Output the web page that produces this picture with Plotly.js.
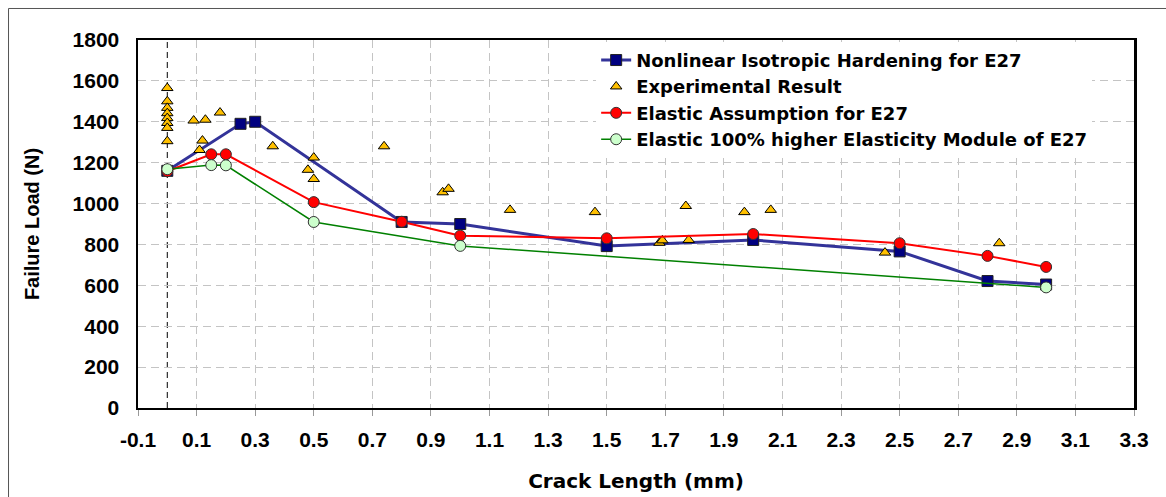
<!DOCTYPE html>
<html>
<head>
<meta charset="utf-8">
<script src="https://cdn.plot.ly/plotly-3.0.1.min.js"></script>
<style>
  html, body { margin: 0; padding: 0; background: #ffffff; }
  #chart { width: 1166px; height: 497px; }
</style>
</head>
<body>
<div id="chart"></div>
<script>
// ---- data ----
const seriesNames = [
  "Nonlinear Isotropic Hardening for E27",
  "Experimental Result",
  "Elastic Assumption for E27",
  "Elastic 100% higher Elasticity Module of E27"
];

const crackNonlinear = [0, 0.25, 0.3, 0.8, 1.0, 1.5, 2.0, 2.5, 2.8, 3.0];
const loadNonlinear  = [1160, 1390, 1400, 910, 900, 792, 822, 766, 621, 604];

const crackExp = [0, 0, 0, 0, 0, 0, 0, 0,
                  0.09, 0.13, 0.18, 0.12, 0.11, 0.36, 0.50, 0.48, 0.50, 0.74,
                  0.94, 0.96, 1.17, 1.46, 1.68, 1.69, 1.78, 1.77, 1.97, 2.06,
                  2.45, 2.84];
const loadExp  = [1565, 1500, 1468, 1442, 1418, 1394, 1370, 1305,
                  1406, 1410, 1445, 1308, 1262, 1280, 1225, 1165, 1120, 1280,
                  1055, 1072, 969, 958, 808, 820, 822, 988, 958, 969,
                  760, 806];

const crackElastic = [0, 0.15, 0.2, 0.5, 0.8, 1.0, 1.5, 2.0, 2.5, 2.8, 3.0];
const loadElastic  = [1158, 1241, 1241, 1007, 911, 843, 830, 851, 806, 744, 690];

const crackElastic2 = [0, 0.15, 0.2, 0.5, 1.0, 3.0];
const loadElastic2  = [1168, 1188, 1187, 910, 793, 590];

const xTickVals   = [-0.1, 0.1, 0.3, 0.5, 0.7, 0.9, 1.1, 1.3, 1.5, 1.7, 1.9, 2.1, 2.3, 2.5, 2.7, 2.9, 3.1, 3.3];
const xTickLabels = ["-0.1", "0.1", "0.3", "0.5", "0.7", "0.9", "1.1", "1.3", "1.5", "1.7", "1.9", "2.1", "2.3", "2.5", "2.7", "2.9", "3.1", "3.3"];

const xTitle = "Crack Length (mm)";
const yTitle = "Failure Load (N)";

// ---- traces ----
const traces = [
  {
    type: "scatter", mode: "lines+markers", name: seriesNames[0],
    x: crackNonlinear, y: loadNonlinear,
    line: { color: "#333399", width: 3 },
    marker: { symbol: "square", size: 11, color: "#000080", line: { color: "#222222", width: 1 } }
  },
  {
    type: "scatter", mode: "markers", name: seriesNames[1],
    x: crackExp, y: loadExp,
    marker: { symbol: "triangle-up", size: 10, color: "#FFC000", line: { color: "#000000", width: 1 } }
  },
  {
    type: "scatter", mode: "lines+markers", name: seriesNames[2],
    x: crackElastic, y: loadElastic,
    line: { color: "#FF0000", width: 2 },
    marker: { symbol: "circle", size: 11, color: "#FF0000", line: { color: "#333333", width: 1 } }
  },
  {
    type: "scatter", mode: "lines+markers", name: seriesNames[3],
    x: crackElastic2, y: loadElastic2,
    line: { color: "#008000", width: 1.5 },
    marker: { symbol: "circle", size: 11, color: "#CCFFCC", line: { color: "#333333", width: 1 } }
  }
];

const tickFont = { family: "Liberation Sans, Arial, sans-serif", size: 21, color: "#000000", weight: "bold" };

const layout = {
  width: 1166, height: 497,
  margin: { l: 138, r: 32, t: 40, b: 89, pad: 0 },
  paper_bgcolor: "#ffffff", plot_bgcolor: "#ffffff",
  showlegend: true,
  legend: {
    x: 0.46, xanchor: "left", y: 0.995, yanchor: "top",
    bgcolor: "#ffffff", borderwidth: 0,
    font: { family: "DejaVu Sans, sans-serif", size: 18, color: "#000000", weight: "bold" },
    traceorder: "normal"
  },
  xaxis: {
    range: [-0.1, 3.3], tickmode: "array", tickvals: xTickVals, ticktext: xTickLabels,
    showline: true, linecolor: "#000000", linewidth: 2, mirror: true,
    ticks: "outside", ticklen: 6, tickcolor: "#999999", tickwidth: 1,
    ticklabelstandoff: 6,
    showgrid: true, gridcolor: "#c4c4c4", griddash: "8px,5px", gridwidth: 1,
    zeroline: false,
    tickfont: tickFont,
    title: { text: xTitle, font: { family: "DejaVu Sans, sans-serif", size: 20, color: "#000000", weight: "bold" }, standoff: 24 }
  },
  yaxis: {
    range: [0, 1800], dtick: 200,
    showline: true, linecolor: "#000000", linewidth: 2.5, mirror: true,
    ticks: "", ticklabelstandoff: 12,
    showgrid: true, gridcolor: "#c4c4c4", griddash: "8px,5px", gridwidth: 1,
    zeroline: false,
    tickfont: tickFont,
    title: { text: yTitle, font: { family: "Liberation Sans, Arial, sans-serif", size: 20, color: "#000000", weight: "bold" }, standoff: 28 }
  },
  shapes: [
    { type: "line", xref: "x", yref: "paper", x0: 0, x1: 0, y0: 0, y1: 1,
      line: { color: "#000000", width: 1, dash: "6px,4px" }, layer: "below" },
    { type: "line", xref: "paper", yref: "paper", x0: -0.1300, x1: -0.1300, y0: 1.0856, y1: -0.35,
      line: { color: "#555555", width: 1 } },
    { type: "line", xref: "paper", yref: "paper", x0: -0.1300, x1: 1.06, y0: 1.0856, y1: 1.0856,
      line: { color: "#555555", width: 1 } }
  ]
};

Plotly.newPlot("chart", traces, layout, { displayModeBar: false, staticPlot: true });
</script>
</body>
</html>
